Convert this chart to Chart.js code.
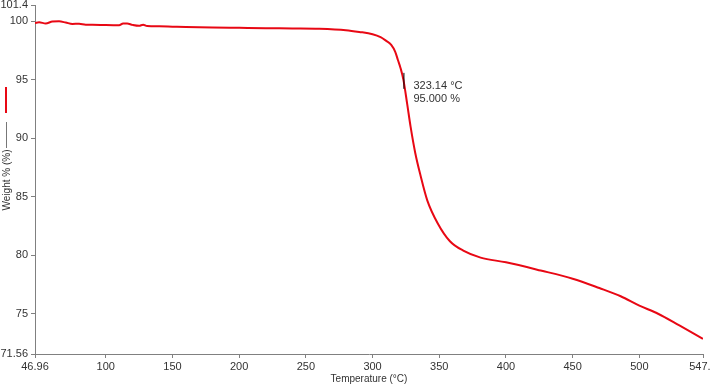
<!DOCTYPE html>
<html>
<head>
<meta charset="utf-8">
<script src="https://cdn.jsdelivr.net/npm/chart.js@4"></script>
<style>
  html, body { margin: 0; padding: 0; background: #fff; }
  #wrap { width: 710px; height: 385px; }
</style>
</head>
<body>
<div id="wrap"><canvas id="tga"></canvas></div>
<script>
const temperature = [46.96, 50, 55, 60, 65, 70, 75, 80, 85, 90, 100, 110, 113, 116, 120, 125, 128, 131, 140, 150,
  160, 180, 200, 220, 240, 260, 280, 290, 300, 306, 310, 314, 317, 319, 321, 323.14, 326, 328.5, 332, 336,
  341, 349, 358, 368, 381, 400, 426, 450, 470, 486, 500, 514, 530, 547.7];
const weight = [99.85, 99.92, 99.82, 99.98, 100.0, 99.9, 99.78, 99.8, 99.72, 99.72, 99.68, 99.66, 99.82, 99.82, 99.7, 99.62, 99.72, 99.6, 99.58, 99.55,
  99.52, 99.48, 99.45, 99.42, 99.40, 99.37, 99.25, 99.1, 98.9, 98.65, 98.35, 98.0, 97.4, 96.7, 96.0, 95.0, 92.9, 91.0, 88.75, 86.8,
  84.7, 82.7, 81.2, 80.4, 79.8, 79.4, 78.7, 78.0, 77.2, 76.5, 75.7, 75.0, 74.0, 72.86];

const xTicks = [46.96, 100, 150, 200, 250, 300, 350, 400, 450, 500, 547.7];
const yTicks = [71.56, 75, 80, 85, 90, 95, 100, 101.4];
const markTemp = 323.14;
const markWeight = 95.0;

const textColor = '#333';
const axisColor = '#808080';
const lineColor = 'rgb(232, 8, 20)';

// Plugin pour titre vertical, légende et annotation
const decorations = {
  id: 'decorations',
  afterDraw(chart) {
    const ctx = chart.ctx;
    const x = chart.scales.x, y = chart.scales.y;
    ctx.save();

    // annotation du point 95 %
    const px = x.getPixelForValue(markTemp);
    const py = y.getPixelForValue(markWeight);
    ctx.strokeStyle = '#000';
    ctx.lineWidth = 1;
    ctx.beginPath();
    ctx.moveTo(px + 0.5, py - 7);
    ctx.lineTo(px + 0.5, py + 9);
    ctx.stroke();
    ctx.fillStyle = textColor;
    ctx.font = '11px "Liberation Sans", Arial, sans-serif';
    ctx.textBaseline = 'middle';
    ctx.textAlign = 'left';
    ctx.fillText(markTemp.toFixed(2) + ' °C', px + 10, py + 6);
    ctx.fillText(markWeight.toFixed(3) + ' %', px + 10, py + 19);

    // titre de l'axe x
    ctx.textAlign = 'center';
    ctx.font = '10px "Liberation Sans", Arial, sans-serif';
    ctx.fillText('Temperature (°C)', (x.left + x.right) / 2, 379);

    // légende verticale de l'axe y
    ctx.strokeStyle = lineColor;
    ctx.lineWidth = 2;
    ctx.beginPath();
    ctx.moveTo(6, 87);
    ctx.lineTo(6, 113);
    ctx.stroke();
    ctx.strokeStyle = '#777';
    ctx.lineWidth = 1;
    ctx.beginPath();
    ctx.moveTo(6.5, 122);
    ctx.lineTo(6.5, 148);
    ctx.stroke();
    ctx.translate(7, 180);
    ctx.rotate(-Math.PI / 2);
    ctx.fillStyle = textColor;
    ctx.fillText('Weight % (%)', 0, 0);
    ctx.restore();
  }
};

new Chart(document.getElementById('tga'), {
  type: 'line',
  data: {
    datasets: [{
      data: temperature.map((t, i) => ({ x: t, y: weight[i] })),
      borderColor: lineColor,
      borderWidth: 2,
      pointRadius: 0,
      fill: false,
      cubicInterpolationMode: 'monotone'
    }]
  },
  options: {
    responsive: true,
    maintainAspectRatio: false,
    animation: false,
    layout: { padding: { top: 5, right: 7, left: 0, bottom: 0 } },
    plugins: { legend: { display: false }, tooltip: { enabled: false } },
    scales: {
      x: {
        type: 'linear',
        min: 46.96,
        max: 547.7,
        afterBuildTicks: (s) => { s.ticks = xTicks.map(v => ({ value: v })); },
        afterFit: (s) => { s.height = 31; s.paddingLeft = 0; s.paddingRight = 0; },
        grid: { drawOnChartArea: false, color: axisColor, tickLength: 4 },
        border: { color: axisColor },
        ticks: {
          color: textColor,
          font: { family: '"Liberation Sans", Arial, sans-serif', size: 11 },
          maxRotation: 0,
          autoSkip: false,
          padding: 2,
          callback: (v) => String(v)
        }
      },
      y: {
        type: 'linear',
        min: 71.56,
        max: 101.4,
        afterBuildTicks: (s) => { s.ticks = yTicks.map(v => ({ value: v })); },
        afterFit: (s) => { s.width = 35; s.paddingTop = 0; s.paddingBottom = 0; },
        grid: { drawOnChartArea: false, color: axisColor, tickLength: 4 },
        border: { color: axisColor },
        ticks: {
          color: textColor,
          font: { family: '"Liberation Sans", Arial, sans-serif', size: 11 },
          autoSkip: false,
          padding: 3,
          callback: (v) => String(v)
        }
      }
    }
  },
  plugins: [decorations]
});
</script>
</body>
</html>
